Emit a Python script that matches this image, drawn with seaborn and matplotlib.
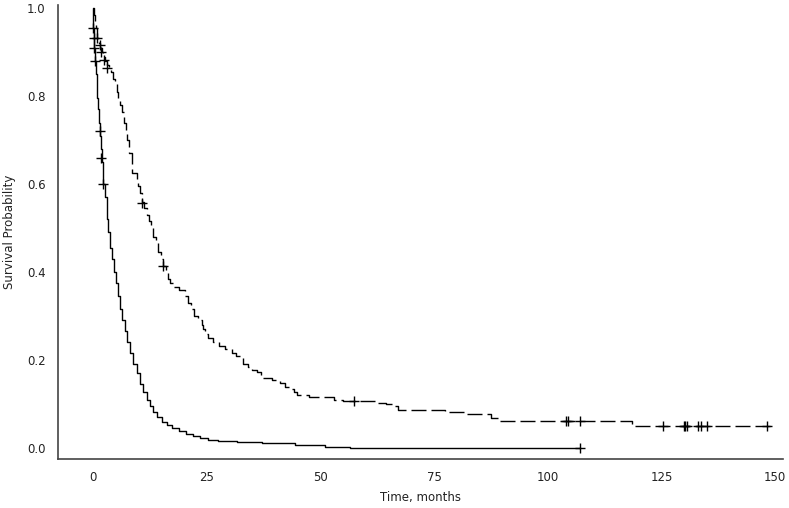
import matplotlib
matplotlib.use("Agg")
import matplotlib.pyplot as plt
import seaborn as sns
import pandas as pd

# ---- data ----
# Solid curve (steep group): step times (months) and survival after each step
time_a = [0, 0.05, 0.1, 0.2, 0.3, 0.4, 0.6, 0.8, 1.0, 1.2, 1.4, 1.6, 1.8, 2.0,
          2.3, 2.6, 3.0, 3.4, 3.8, 4.2, 4.6, 5.0, 5.5, 6.0, 6.5, 7.0, 7.6, 8.2,
          8.9, 9.6, 10.3, 11.0, 11.8, 12.5, 13.3, 14.2, 15.2, 16.2, 17.5, 19.0,
          20.5, 22.0, 23.5, 25.3, 27.5, 31.6, 37.1, 44.4, 51.0, 56.5, 107.0]
surv_a = [1.0, 0.975, 0.955, 0.933, 0.91, 0.88, 0.85, 0.82, 0.795, 0.77, 0.74,
          0.71, 0.68, 0.65, 0.60, 0.57, 0.52, 0.49, 0.455, 0.43, 0.40, 0.375,
          0.345, 0.315, 0.29, 0.265, 0.24, 0.215, 0.19, 0.17, 0.145, 0.128,
          0.11, 0.095, 0.082, 0.07, 0.06, 0.052, 0.045, 0.038, 0.032, 0.027,
          0.022, 0.018, 0.016, 0.014, 0.012, 0.007, 0.003, 0.0, 0.0]
cens_time_a = [0.1, 0.25, 0.35, 0.45, 1.5, 1.8, 2.3, 107.0]
cens_surv_a = [0.955, 0.933, 0.91, 0.88, 0.72, 0.66, 0.60, 0.0]

# Dashed curve (slower group)
time_b = [0, 0.2, 0.4, 0.6, 0.8, 1.0, 1.3, 1.6, 1.9, 2.2, 2.6, 3.0, 3.5, 4.0,
          4.4, 4.8, 5.2, 5.6, 6.0, 6.4, 6.8, 7.2, 7.6, 8.0, 8.5, 9.6, 10.0,
          10.4, 10.7, 11.3, 11.8, 12.3, 12.8, 13.3, 13.8, 14.4, 15.0, 15.5,
          16.0, 16.5, 17.0, 17.6, 19.0, 20.2, 20.8, 21.5, 22.3, 23.0, 23.9,
          24.3, 24.7, 25.4, 26.5, 27.8, 29.0, 30.5, 31.5, 32.3, 33.0, 34.0,
          34.9, 36.0, 37.0, 37.5, 39.3, 41.1, 42.2, 43.2, 44.1, 44.8, 47.5,
          53.0, 55.0, 62.5, 64.5, 66.0, 67.0, 77.5, 81.5, 87.5, 89.0, 118.5,
          149.0]
surv_b = [1.0, 0.985, 0.97, 0.955, 0.945, 0.933, 0.92, 0.91, 0.90, 0.89, 0.88,
          0.87, 0.862, 0.855, 0.84, 0.83, 0.81, 0.795, 0.78, 0.765, 0.74, 0.72,
          0.70, 0.67, 0.625, 0.61, 0.595, 0.58, 0.56, 0.545, 0.53, 0.515, 0.50,
          0.48, 0.465, 0.445, 0.43, 0.414, 0.40, 0.385, 0.375, 0.365, 0.36,
          0.345, 0.33, 0.315, 0.30, 0.29, 0.28, 0.27, 0.26, 0.25, 0.242, 0.232,
          0.225, 0.215, 0.21, 0.204, 0.19, 0.183, 0.177, 0.173, 0.165, 0.158,
          0.155, 0.147, 0.139, 0.134, 0.128, 0.12, 0.117, 0.109, 0.107, 0.103,
          0.10, 0.095, 0.086, 0.082, 0.077, 0.068, 0.061, 0.05, 0.05]
cens_time_b = [0.95, 1.5, 1.7, 2.4, 3.0, 10.7, 15.5, 57.3, 104.0, 104.4, 107.1,
               125.4, 129.9, 130.2, 130.5, 133.0, 133.7, 135.1, 148.2]
cens_surv_b = [0.933, 0.916, 0.90, 0.882, 0.863, 0.558, 0.414, 0.107, 0.061,
               0.061, 0.061, 0.05, 0.05, 0.05, 0.05, 0.05, 0.05, 0.05, 0.05]

x_ticks = [0, 25, 50, 75, 100, 125, 150]
y_ticks = [0.0, 0.2, 0.4, 0.6, 0.8, 1.0]
x_label = "Time, months"
y_label = "Survival Probability"

# ---- plotting ----
sns.set_style("white")
plt.rcParams["font.family"] = ["DejaVu Sans"]
plt.rcParams["font.size"] = 8.5

fig = plt.figure(figsize=(7.89, 5.08), dpi=100)
ax = fig.add_axes([0.0735, 0.0965, 0.9189, 0.8935])

df_a = pd.DataFrame({"t": time_a, "s": surv_a})
df_b = pd.DataFrame({"t": time_b, "s": surv_b})

sns.lineplot(data=df_a, x="t", y="s", drawstyle="steps-post", color="black",
             linewidth=1.0, estimator=None, ax=ax)
sns.lineplot(data=df_b, x="t", y="s", drawstyle="steps-post", color="black",
             linewidth=1.0, estimator=None, ax=ax)
ax.get_lines()[-1].set_dashes((10.8, 3.6))

sns.scatterplot(x=cens_time_a, y=cens_surv_a, marker="+", s=55, color="black",
                linewidth=1.0, ax=ax, clip_on=False, zorder=3)
sns.scatterplot(x=cens_time_b, y=cens_surv_b, marker="+", s=55, color="black",
                linewidth=1.0, ax=ax, clip_on=False, zorder=3)

ax.set_xlim(-7.67, 151.7)
ax.set_ylim(-0.025, 1.007)
ax.set_xticks(x_ticks)
ax.set_xticklabels([str(v) for v in x_ticks])
ax.set_yticks(y_ticks)
ax.set_yticklabels([f"{v:.1f}" for v in y_ticks])

for side in ["top", "right"]:
    ax.spines[side].set_visible(False)
for side in ["left", "bottom"]:
    ax.spines[side].set_color("#444444")
    ax.spines[side].set_linewidth(1.2)

ax.tick_params(axis="both", direction="out", length=5, width=1.0,
               color="#444444", labelsize=8.5, labelcolor="#222222", pad=4)
ax.set_xlabel(x_label, fontsize=8.5, color="#222222", labelpad=5)
ax.set_ylabel(y_label, fontsize=8.5, color="#222222", labelpad=8)

fig.savefig("out.png", dpi=100)
